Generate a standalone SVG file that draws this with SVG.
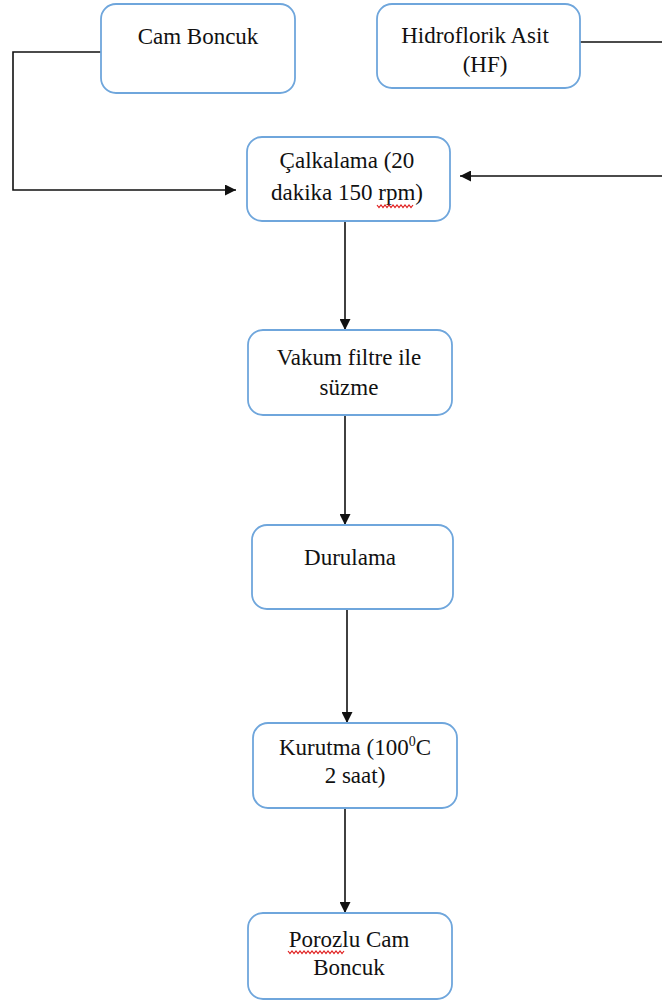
<svg xmlns="http://www.w3.org/2000/svg" width="662" height="1001" viewBox="0 0 662 1001">
<style>
.box{fill:#fff;stroke:#6fa6dc;stroke-width:1.8}
.t{font-family:"Liberation Serif","Tinos","Times New Roman","DejaVu Serif",serif;font-size:23px;fill:#111;text-anchor:middle}
.c{fill:none;stroke:#111;stroke-width:1.6}
.sq{fill:none;stroke:#e02020;stroke-width:1.2}
</style>
<defs>
<marker id="ah" viewBox="0 0 10 10" refX="10" refY="5" markerWidth="11" markerHeight="11" markerUnits="userSpaceOnUse" orient="auto">
<path d="M0,0 L10,5 L0,10 z" fill="#111"/>
</marker>
</defs>
<rect width="662" height="1001" fill="#fff"/>
<g id="connectors">
<path class="c" d="M101,52 H13 V190 H236" marker-end="url(#ah)"/>
<path class="c" d="M580,42 H672 V176 H460" marker-end="url(#ah)"/>
<path class="c" d="M345,222 V330" marker-end="url(#ah)"/>
<path class="c" d="M345,415 V525" marker-end="url(#ah)"/>
<path class="c" d="M347,609 V723" marker-end="url(#ah)"/>
<path class="c" d="M345,808 V913" marker-end="url(#ah)"/>
</g>
<g id="cam-boncuk">
<rect class="box" x="101" y="4" width="194" height="89" rx="15"/>
<text class="t" x="198" y="44">Cam Boncuk</text>
</g>
<g id="hf">
<rect class="box" x="377" y="4" width="203" height="84" rx="15"/>
<text class="t" x="475" y="43">Hidroflorik Asit</text>
<text class="t" x="485" y="72">(HF)</text>
</g>
<g id="calkalama">
<rect class="box" x="247" y="137" width="203" height="84" rx="15"/>
<text class="t" x="347" y="168">Çalkalama (20</text>
<text class="t" x="347" y="200">dakika 150 rpm)</text>
<path class="sq" d="M377,205 l2,2.5 l2,-2.5 l2,2.5 l2,-2.5 l2,2.5 l2,-2.5 l2,2.5 l2,-2.5 l2,2.5 l2,-2.5 l2,2.5 l2,-2.5 l2,2.5 l2,-2.5 l2,2.5 l2,-2.5 l2,2.5 l2,-2.5"/>
</g>
<g id="vakum">
<rect class="box" x="248" y="330" width="204" height="85" rx="15"/>
<text class="t" x="349" y="365">Vakum filtre ile</text>
<text class="t" x="349" y="395">süzme</text>
</g>
<g id="durulama">
<rect class="box" x="252" y="525" width="201" height="84" rx="15"/>
<text class="t" x="350" y="565">Durulama</text>
</g>
<g id="kurutma">
<rect class="box" x="253" y="723" width="204" height="85" rx="15"/>
<text class="t" x="355" y="755">Kurutma (100<tspan font-size="14" dy="-9">0</tspan><tspan dy="9">C</tspan></text>
<text class="t" x="355" y="783">2 saat)</text>
</g>
<g id="porozlu">
<rect class="box" x="248" y="913" width="204" height="86" rx="15"/>
<text class="t" x="349" y="947">Porozlu Cam</text>
<text class="t" x="349" y="975">Boncuk</text>
<path class="sq" d="M288,951 l2,2.5 l2,-2.5 l2,2.5 l2,-2.5 l2,2.5 l2,-2.5 l2,2.5 l2,-2.5 l2,2.5 l2,-2.5 l2,2.5 l2,-2.5 l2,2.5 l2,-2.5 l2,2.5 l2,-2.5 l2,2.5 l2,-2.5 l2,2.5 l2,-2.5 l2,2.5 l2,-2.5 l2,2.5 l2,-2.5 l2,2.5 l2,-2.5 l2,2.5 l2,-2.5"/>
</g>
</svg>
